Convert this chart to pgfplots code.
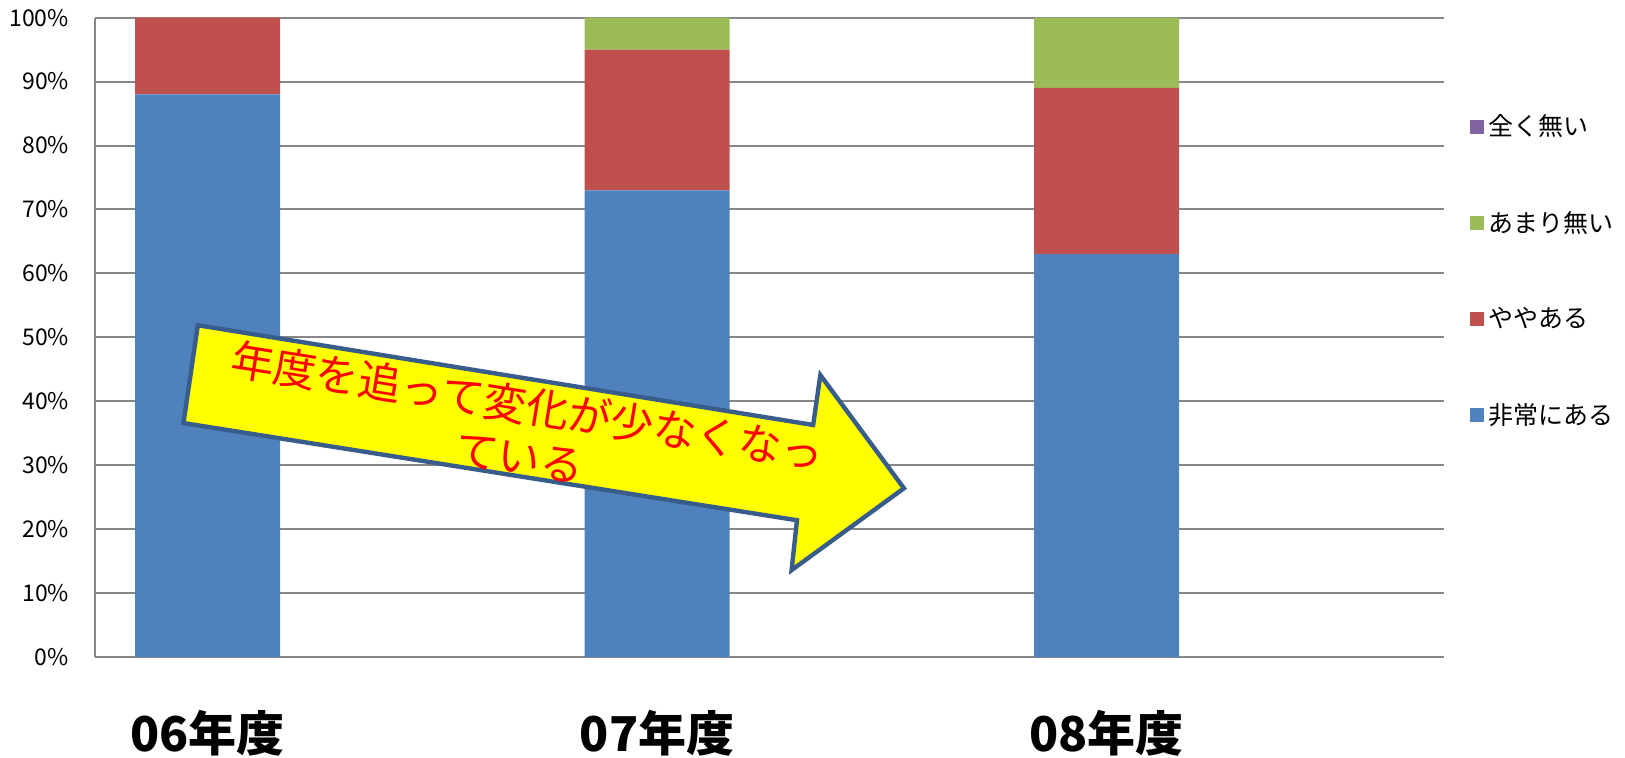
\documentclass[border=0pt]{standalone}
\usepackage{pgfplots}
\pgfplotsset{compat=1.18}
\usepackage{fontspec}
\setmainfont{Noto Sans CJK JP}
\definecolor{cblue}{HTML}{4F81BD}
\definecolor{cred}{HTML}{C0504D}
\definecolor{cgreen}{HTML}{9BBB59}
\definecolor{cpurple}{HTML}{8064A2}
\definecolor{gridgray}{HTML}{878787}
\definecolor{arrowblue}{HTML}{385D8A}
\definecolor{ayellow}{HTML}{FFFF00}
\begin{document}
\begin{tikzpicture}
\useasboundingbox (-47.675pt,-49.95pt) rectangle (764.825pt,328.55pt);
\begin{axis}[
  at={(0pt,0pt)}, anchor=south west,
  scale only axis, width=674.2pt, height=319.75pt,
  xmin=-0.25, xmax=2.75, ymin=0, ymax=100,
  enlargelimits=false, clip=false,
  ybar stacked, bar width=0.3226,
  axis line style={draw=none},
  major tick length=0pt,
  xtick={0,1,2}, xticklabels={06年度,07年度,08年度},
  xticklabel style={anchor=center, yshift=-38pt, font=\bfseries\fontsize{24}{28}\selectfont},
  ytick={0,10,...,100},
  yticklabels={0\%,10\%,20\%,30\%,40\%,50\%,60\%,70\%,80\%,90\%,100\%},
  yticklabel style={anchor=east, inner sep=0pt, xshift=-13pt, font=\fontsize{11.5}{13}\selectfont},
  ymajorgrids, grid style={gridgray, line width=1pt},
  reverse legend,
  legend image code/.code={\fill[#1] (0pt,-3.6pt) rectangle (7.2pt,3.6pt);},
  legend style={at={(1.0192,0.6038)}, anchor=west, draw=none, fill=none, inner sep=0pt,
    row sep=32.2pt, font=\fontsize{12.5}{14}\selectfont},
  legend cell align=left,
]
\addplot[fill=cblue, draw=none] coordinates {(0,88) (1,73) (2,63)};
\addlegendentry{非常にある}
\addplot[fill=cred, draw=none] coordinates {(0,12) (1,22) (2,26)};
\addlegendentry{ややある}
\addplot[fill=cgreen, draw=none] coordinates {(0,0) (1,5) (2,11)};
\addlegendentry{あまり無い}
\addplot[fill=cpurple, draw=none] coordinates {(0,0) (1,0) (2,0)};
\addlegendentry{全く無い}
\draw[gridgray, line width=1pt] (axis cs:-0.25,0) -- (axis cs:-0.25,100);
\coordinate (p1) at (axis cs:-0.022,51.9);
\coordinate (p2) at (axis cs:1.347,36.3);
\coordinate (p3) at (axis cs:1.363,44.1);
\coordinate (p4) at (axis cs:1.549,26.4);
\coordinate (p5) at (axis cs:1.299,13.6);
\coordinate (p6) at (axis cs:1.311,21.4);
\coordinate (p7) at (axis cs:-0.054,36.6);
\coordinate (tc) at (axis cs:0.703,35.4);
\end{axis}
\draw[draw=arrowblue, line width=2.2pt, fill=ayellow, line join=miter]
  (p1) -- (p2) -- (p3) -- (p4) -- (p5) -- (p6) -- (p7) -- cycle;
\node[rotate=-9.2, text=red, align=center, font=\fontsize{21.5}{26}\selectfont, inner sep=0pt]
  at (tc) {年度を追って変化が少なくなっ\\ている};
\end{tikzpicture}
\end{document}
